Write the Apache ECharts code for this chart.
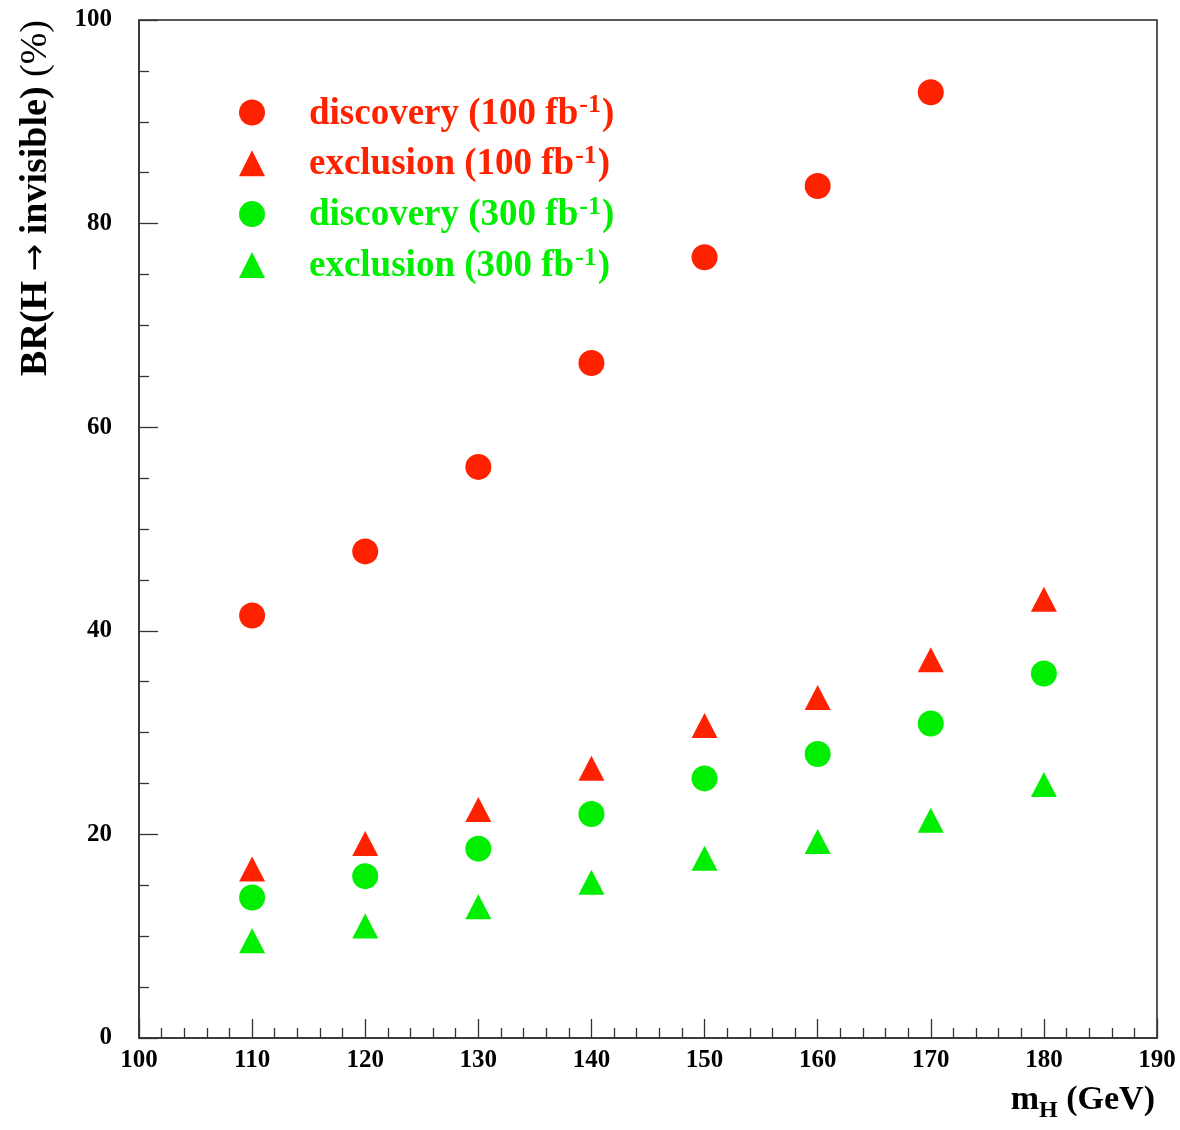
<!DOCTYPE html>
<html>
<head>
<meta charset="utf-8">
<title>BR(H → invisible) sensitivity</title>
<script src="https://cdn.jsdelivr.net/npm/echarts@6/dist/echarts.min.js"></script>
<style>
  html, body { margin: 0; padding: 0; background: #ffffff; }
  #chart { width: 1180px; height: 1130px; }
</style>
</head>
<body>
<div id="chart"></div>
<script>
// Higgs mass points (GeV)
const massPoints = [110, 120, 130, 140, 150, 160, 170, 180];

// Minimal BR(H -> invisible) in %, per mass point
const discovery100 = [41.5, 47.8, 56.1, 66.3, 76.7, 83.7, 92.9];
const exclusion100 = [16.6, 19.1, 22.45, 26.5, 30.7, 33.45, 37.15, 43.1];
const discovery300 = [13.8, 15.9, 18.6, 22.0, 25.5, 27.9, 30.9, 35.8];
const exclusion300 = [9.55, 11.0, 12.9, 15.3, 17.65, 19.3, 21.4, 24.9];

// Series names and luminosity labels
const seriesNames = ['discovery (100 fb', 'exclusion (100 fb', 'discovery (300 fb', 'exclusion (300 fb'];
const lumiExponent = '-1';

const RED = '#ff2200';
const GREEN = '#00ee00';
const SERIF = '"Liberation Serif", "DejaVu Serif", serif';

function pairs(values) {
  return values.map((v, i) => [massPoints[i], v]);
}

const chart = echarts.init(document.getElementById('chart'), null, { renderer: 'canvas' });

const richLegend = {
  a: { fontFamily: SERIF, fontWeight: 'bold', fontSize: 37, lineHeight: 40, verticalAlign: 'bottom', padding: [0, 0, 0, 39] },
  t: { fontFamily: SERIF, fontWeight: 'bold', fontSize: 37, lineHeight: 40, verticalAlign: 'bottom' },
  sup: { fontFamily: SERIF, fontWeight: 'bold', fontSize: 26, lineHeight: 26, verticalAlign: 'top', padding: [0, 1, 0, 1] }
};

const option = {
  animation: false,
  backgroundColor: '#ffffff',
  grid: {
    left: 139, right: 23, top: 20, bottom: 92,
    show: true, borderColor: '#222', borderWidth: 1.5, backgroundColor: 'transparent'
  },
  legend: {
    orient: 'vertical',
    left: 239,
    top: 92.5,
    padding: 0,
    itemWidth: 26,
    itemHeight: 26,
    itemGap: 10.8,
    selectedMode: false,
    data: [
      { name: seriesNames[0], icon: 'circle', textStyle: { color: RED } },
      { name: seriesNames[1], icon: 'triangle', textStyle: { color: RED } },
      { name: seriesNames[2], icon: 'circle', textStyle: { color: GREEN } },
      { name: seriesNames[3], icon: 'triangle', textStyle: { color: GREEN } }
    ],
    formatter: name => '{a|' + name.split(' ')[0] + '}{t| ' + name.split(' ').slice(1).join(' ') + '}{sup|' + lumiExponent + '}{t|)}',
    textStyle: { fontFamily: SERIF, fontWeight: 'bold', fontSize: 37, rich: richLegend }
  },
  xAxis: {
    type: 'value',
    min: 100, max: 190, interval: 10,
    axisLine: { show: true, onZero: false, lineStyle: { color: '#333', width: 1.5 } },
    axisTick: { show: true, inside: true, length: 19, lineStyle: { color: '#333', width: 1.3 } },
    minorTick: { show: true, splitNumber: 5, length: 10, lineStyle: { color: '#333', width: 1.3 } },
    splitLine: { show: false },
    axisLabel: { margin: 10, color: '#000', fontFamily: SERIF, fontWeight: 'bold', fontSize: 25, showMinLabel: true, showMaxLabel: true }
  },
  yAxis: {
    type: 'value',
    min: 0, max: 100, interval: 20,
    axisLine: { show: true, onZero: false, lineStyle: { color: '#333', width: 1.5 } },
    axisTick: { show: true, inside: true, length: 19, lineStyle: { color: '#333', width: 1.3 } },
    minorTick: { show: true, splitNumber: 4, length: 10, lineStyle: { color: '#333', width: 1.3 } },
    splitLine: { show: false },
    axisLabel: { margin: 27, color: '#000', fontFamily: SERIF, fontWeight: 'bold', fontSize: 25, showMinLabel: true, showMaxLabel: true }
  },
  series: [
    { name: seriesNames[0], type: 'scatter', symbol: 'circle', symbolSize: 26, itemStyle: { color: RED, opacity: 1 }, data: pairs(discovery100) },
    { name: seriesNames[1], type: 'scatter', symbol: 'triangle', symbolSize: [26, 25], itemStyle: { color: RED, opacity: 1 }, data: pairs(exclusion100) },
    { name: seriesNames[2], type: 'scatter', symbol: 'circle', symbolSize: 26, itemStyle: { color: GREEN, opacity: 1 }, data: pairs(discovery300) },
    { name: seriesNames[3], type: 'scatter', symbol: 'triangle', symbolSize: [26, 25], itemStyle: { color: GREEN, opacity: 1 }, data: pairs(exclusion300) }
  ],
  graphic: [
    {
      // vertical axis title, reading bottom to top
      type: 'text',
      left: 17,
      top: 20,
      rotation: Math.PI / 2,
      style: {
        text: '{b|BR(H }{arr|→}{b| invisible) }{s|(%)}',
        fill: '#000',
        rich: {
          b: { fontFamily: SERIF, fontWeight: 'bold', fontSize: 38, lineHeight: 41, fill: '#000' },
          arr: { fontFamily: '"DejaVu Sans", sans-serif', fontWeight: 'normal', fontSize: 33, lineHeight: 41, fill: '#000' },
          s: { fontFamily: SERIF, fontWeight: 'normal', fontSize: 38, lineHeight: 41, fill: '#000' }
        }
      }
    },
    {
      // horizontal axis title with subscript
      type: 'text',
      right: 25,
      top: 1065,
      style: {
        text: '{b|m}{sub|H}{b| (GeV)}',
        fill: '#000',
        rich: {
          b: { fontFamily: SERIF, fontWeight: 'bold', fontSize: 34, lineHeight: 40, verticalAlign: 'top', fill: '#000' },
          sub: { fontFamily: SERIF, fontWeight: 'bold', fontSize: 24, lineHeight: 24, verticalAlign: 'bottom', padding: [34, 0, 0, 0], fill: '#000' }
        }
      }
    }
  ]
};

chart.setOption(option);
</script>
</body>
</html>
